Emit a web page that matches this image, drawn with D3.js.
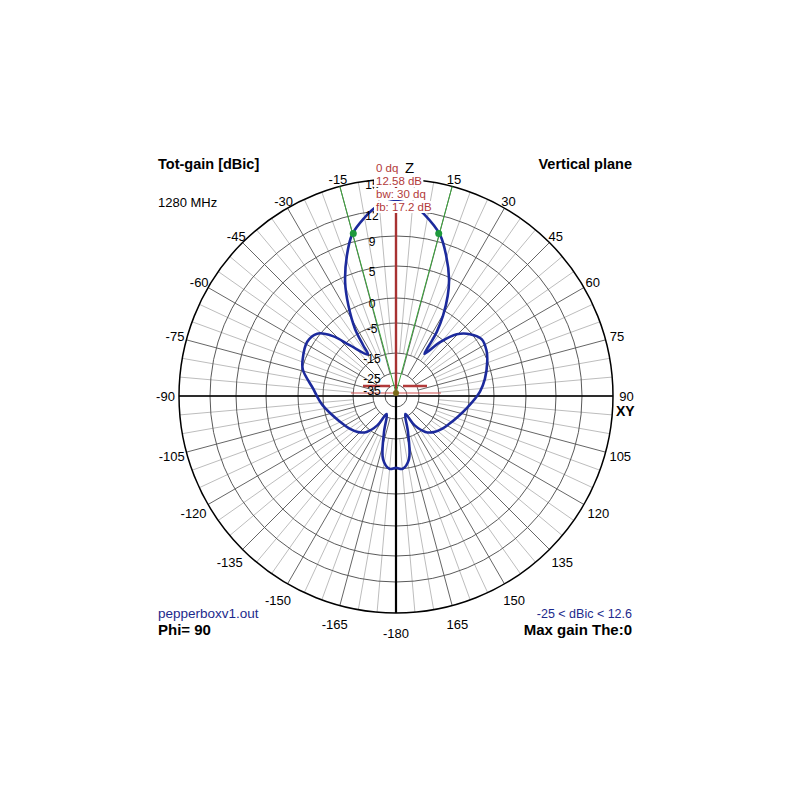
<!DOCTYPE html>
<html>
<head>
<meta charset="utf-8">
<script src="https://cdn.jsdelivr.net/npm/d3@7"></script>
<style>
  body { margin: 0; background: #fff; }
  svg { font-family: "Liberation Sans", Arial, sans-serif; }
</style>
</head>
<body>
<div id="chart"></div>
<script>
// gain rings (dBic), outermost first
var ringValues = [15, 12, 9, 5, 0, -5, -15, -25, -35];

// elevation angle labels round the rim (0 is replaced by "Z")
var angleTicks = [-180, -165, -150, -135, -120, -105, -90, -75, -60, -45, -30, -15,
                  15, 30, 45, 60, 75, 90, 105, 120, 135, 150, 165];

// total gain pattern (degrees from Z, dBic)
var patternAngles = [-180, -175, -169, -163, -156, -150, -143, -136, -128, -120, -114,
                     -100, -94, -87, -76, -70, -60, -53, -48, -44, -36, -34.6, -32.6,
                     -28.6, -24.7, -19.7, -15.5, -10.5, -6, 0, 6, 9, 15.5, 20, 25, 28,
                     31.3, 33.7, 34.9, 36, 41, 46, 51.5, 58, 65, 71, 81, 89, 100, 114,
                     120, 128, 136, 143, 150, 156, 163, 169, 175];
var patternGain = [-4.62, -4.4, -6.8, -16, -25, -17.8, -13.1, -11.2, -9.9, -8.8, -7.8,
                   -4.8, -4.0, -3.0, -0.4, 0.2, 0.7, 0.1, -2.6, -7.3, -13.5, -10.2, -4.4,
                   0.2, 3.7, 7.1, 9.5, 11.0, 12.1, 12.58, 12.1, 11.4, 9.5, 7.2, 4.3, 1.9,
                   -1.5, -4.9, -10.1, -13.2, -6.9, -2.7, -0.7, 0.5, 0.3, -0.3, -1.6, -2.8, -4.8, -7.8,
                   -8.8, -9.9, -11.2, -13.1, -17.8, -25, -16, -6.8, -4.4];

var maxGain = 12.58;
var maxAngle = 0;
var beamwidth = 30;
var frontBack = 17.2;

var width = 800, height = 800;
var cx = 396, cy = 396, R = 217;   // grid centre
var px = 396, py = 393;            // pattern origin

var svg = d3.select("#chart").append("svg")
  .attr("width", width)
  .attr("height", height);

// radial gain scale (log-like spacing of the rings)
var rScale = d3.scaleLinear()
  .domain([-35, -25, -15, -5, 0, 5, 9, 12, 15])
  .range([11, 23, 43, 73, 98, 130, 160, 186, 217]);

function rad(d) { return d * Math.PI / 180; }

// spokes: light every 5 degrees, dark every 15
var minorAngles = d3.range(0, 360, 5).filter(function(a) { return a % 15 !== 0; });
var majorAngles = d3.range(0, 360, 15);

svg.append("g").selectAll("line")
  .data(minorAngles)
  .enter().append("line")
  .attr("x1", function(a) { return cx + rScale(-15) * Math.sin(rad(a)); })
  .attr("y1", function(a) { return cy - rScale(-15) * Math.cos(rad(a)); })
  .attr("x2", function(a) { return cx + R * Math.sin(rad(a)); })
  .attr("y2", function(a) { return cy - R * Math.cos(rad(a)); })
  .attr("stroke", "#bdbdbd")
  .attr("stroke-width", 1);

svg.append("g").selectAll("line")
  .data(majorAngles)
  .enter().append("line")
  .attr("x1", function(a) { return cx + rScale(-25) * Math.sin(rad(a)); })
  .attr("y1", function(a) { return cy - rScale(-25) * Math.cos(rad(a)); })
  .attr("x2", function(a) { return cx + R * Math.sin(rad(a)); })
  .attr("y2", function(a) { return cy - R * Math.cos(rad(a)); })
  .attr("stroke", "#666")
  .attr("stroke-width", 1);

// rings
svg.append("g").selectAll("circle")
  .data(ringValues.slice(1))
  .enter().append("circle")
  .attr("cx", cx)
  .attr("cy", cy)
  .attr("r", function(d) { return rScale(d); })
  .attr("fill", "none")
  .attr("stroke", "#5a5a5a")
  .attr("stroke-width", 1);

svg.append("circle")
  .attr("cx", cx).attr("cy", cy).attr("r", rScale(ringValues[0]))
  .attr("fill", "none")
  .attr("stroke", "#000")
  .attr("stroke-width", 1.5);

// axes
svg.append("line")
  .attr("x1", cx - R).attr("x2", cx + R).attr("y1", cy).attr("y2", cy)
  .attr("stroke", "#000").attr("stroke-width", 1.5);
svg.append("line")
  .attr("x1", cx).attr("x2", cx).attr("y1", cy).attr("y2", cy + R)
  .attr("stroke", "#000").attr("stroke-width", 2.2);
svg.append("line")
  .attr("x1", px).attr("x2", px).attr("y1", py).attr("y2", cy - R)
  .attr("stroke", "#a83232").attr("stroke-width", 2.4);

// thin red reference line and the red marker bars
svg.append("line")
  .attr("x1", px - rScale(-15) - 2).attr("x2", px + rScale(-15) + 2)
  .attr("y1", py).attr("y2", py)
  .attr("stroke", "#d05050").attr("stroke-width", 1);
[[-33, -6], [7, 31]].forEach(function(s) {
  svg.append("line")
    .attr("x1", px + s[0]).attr("x2", px + s[1])
    .attr("y1", py - 7).attr("y2", py - 7)
    .attr("stroke", "#b23a3a").attr("stroke-width", 2.5);
});

// beamwidth lines
[maxAngle - beamwidth / 2, maxAngle + beamwidth / 2].forEach(function(a) {
  svg.append("line")
    .attr("x1", px).attr("y1", py)
    .attr("x2", cx + R * Math.sin(rad(a)))
    .attr("y2", cy - R * Math.cos(rad(a)))
    .attr("stroke", "#3aa63a").attr("stroke-width", 1);
});

// pattern
var pattern = patternAngles.map(function(a, i) { return [a, patternGain[i]]; });
var line = d3.lineRadial()
  .angle(function(d) { return rad(d[0]); })
  .radius(function(d) { return rScale(d[1]); })
  .curve(d3.curveCatmullRomClosed.alpha(0.5));

svg.append("path")
  .datum(pattern)
  .attr("transform", "translate(" + px + "," + py + ")")
  .attr("d", line)
  .attr("fill", "none")
  .attr("stroke", "#1c2a9c")
  .attr("stroke-width", 2.6)
  .attr("stroke-linejoin", "round");

// -3 dB points
svg.append("g").selectAll("circle")
  .data([maxAngle - beamwidth / 2, maxAngle + beamwidth / 2])
  .enter().append("circle")
  .attr("cx", function(a) { return px + rScale(maxGain - 3) * Math.sin(rad(a)); })
  .attr("cy", function(a) { return py - rScale(maxGain - 3) * Math.cos(rad(a)); })
  .attr("r", 3.5)
  .attr("fill", "#1e9a3c");

svg.append("circle")
  .attr("cx", px).attr("cy", py).attr("r", 3)
  .attr("fill", "#7a6a1a");

// ring labels
svg.append("g").selectAll("text")
  .data(ringValues)
  .enter().append("text")
  .attr("x", cx - 24)
  .attr("y", function(d) { return cy - rScale(d) + 10; })
  .attr("text-anchor", "middle")
  .attr("font-size", "12px")
  .attr("fill", "#000")
  .text(function(d) { return d; });

// angle labels
svg.append("g").selectAll("text")
  .data(angleTicks)
  .enter().append("text")
  .attr("x", function(a) {
    var r = R + 7 + 13 * (1 - Math.cos(rad(a))) / 2;
    return cx + r * Math.sin(rad(a));
  })
  .attr("y", function(a) {
    var r = R + 7 + 13 * (1 - Math.cos(rad(a))) / 2;
    return cy - r * Math.cos(rad(a));
  })
  .attr("dy", "0.36em")
  .attr("text-anchor", "middle")
  .attr("font-size", "13px")
  .attr("fill", "#000")
  .text(function(a) { return a; });

// axis names
svg.append("text")
  .attr("x", 405).attr("y", 173)
  .attr("font-size", "15px")
  .text("Z");
svg.append("text")
  .attr("x", 616).attr("y", 416)
  .attr("font-size", "14px").attr("font-weight", "bold")
  .text("XY");

// red info block with white backing
var info = [maxAngle + " dq", maxGain + " dB", "bw: " + beamwidth + " dq", "fb: " + frontBack + " dB"];
var infoG = svg.append("g");
info.forEach(function(t, i) {
  var txt = infoG.append("text")
    .attr("x", 376).attr("y", 172 + i * 13)
    .attr("font-size", "11.5px")
    .attr("fill", "#b23a3a")
    .text(t);
  var b = txt.node().getBBox();
  infoG.insert("rect", "text")
    .attr("x", b.x - 2).attr("y", b.y)
    .attr("width", b.width + 3).attr("height", b.height)
    .attr("fill", "#fff");
});

// corner texts
function label(x, y, t, size, weight, color, anchor) {
  svg.append("text")
    .attr("x", x).attr("y", y)
    .attr("font-size", size)
    .attr("font-weight", weight)
    .attr("fill", color)
    .attr("text-anchor", anchor)
    .text(t);
}
label(158, 169, "Tot-gain [dBic]", "14.5px", "bold", "#000", "start");
label(632, 169, "Vertical plane", "14.5px", "bold", "#000", "end");
label(158, 207, "1280 MHz", "13px", "normal", "#000", "start");
label(158, 618, "pepperboxv1.out", "13.5px", "normal", "#1c2a8c", "start");
label(158, 635, "Phi= 90", "15px", "bold", "#000", "start");
label(632, 618, "-25 < dBic < 12.6", "12.5px", "normal", "#1c2a8c", "end");
label(632, 635, "Max gain The:0", "15px", "bold", "#000", "end");
</script>
</body>
</html>
